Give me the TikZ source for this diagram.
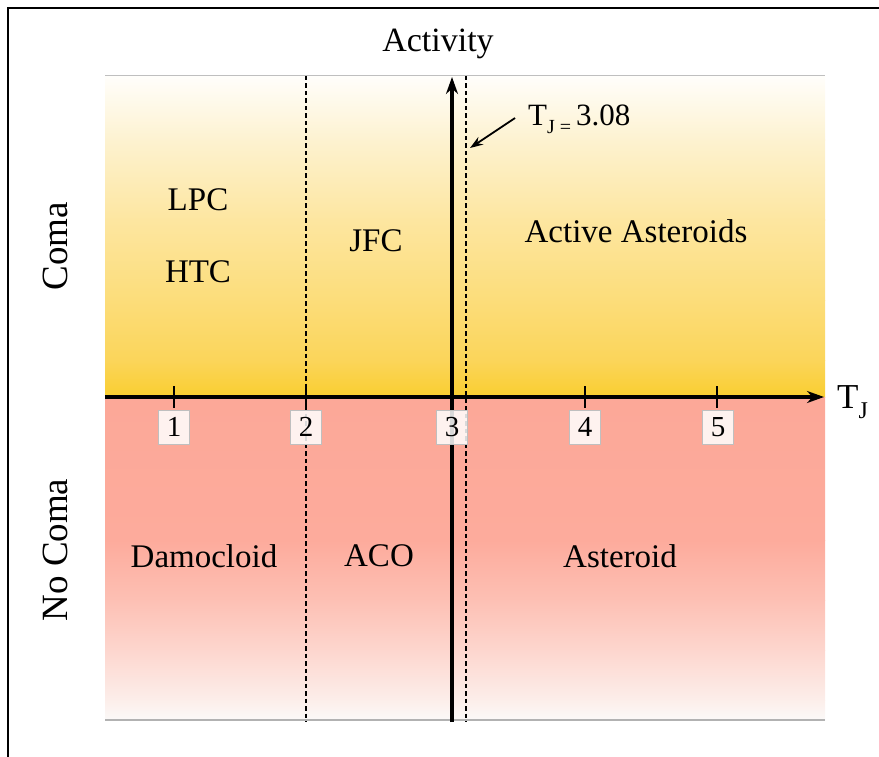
\documentclass[tikz,border=0pt]{standalone}
\usepackage{fontspec}
\setmainfont{Liberation Serif}
\usetikzlibrary{arrows.meta}
\definecolor{yA}{HTML}{FFFEFB}
\definecolor{yB}{HTML}{FDF2D0}
\definecolor{yC}{HTML}{FDE6A0}
\definecolor{yD}{HTML}{FCDD7A}
\definecolor{yE}{HTML}{FBD55A}
\definecolor{yF}{HTML}{F9CE30}
\definecolor{rA}{HTML}{FCA898}
\definecolor{rB}{HTML}{FDAB9C}
\definecolor{rC}{HTML}{FDC0B4}
\definecolor{rD}{HTML}{FDD6CE}
\definecolor{rE}{HTML}{FCEEEA}
\definecolor{rF}{HTML}{FBF9F8}
\begin{document}
\begin{tikzpicture}[x=1pt,y=-1pt,
  lbl/.style={font=\fontsize{33}{36}\selectfont, inner sep=0pt},
  side/.style={font=\fontsize{37}{40}\selectfont, inner sep=0pt, rotate=90},
  ticklbl/.style={draw=black!25, line width=0.8pt, fill=white, fill opacity=0.85, draw opacity=1, text opacity=1, font=\fontsize{29}{30}\selectfont, minimum width=31pt, minimum height=34pt, inner sep=0pt},
  dashln/.style={line width=1.8pt, dash pattern=on 4.5pt off 3pt},
  axisln/.style={line width=3.4pt, -{Stealth[length=17pt,width=12pt]}},
  tickmark/.style={line width=1.8pt}]
\useasboundingbox (0,0) rectangle (879,757);
\draw[line width=2.2pt] (8,757) -- (8,8) -- (879,8);
% top (coma) region
\shade[top color=yA, bottom color=yB] (105,76) rectangle (825,140.5);
\shade[top color=yB, bottom color=yC] (105,140) rectangle (825,220.5);
\shade[top color=yC, bottom color=yD] (105,220) rectangle (825,300.5);
\shade[top color=yD, bottom color=yE] (105,300) rectangle (825,360.5);
\shade[top color=yE, bottom color=yF] (105,360) rectangle (825,397);
% bottom (no coma) region
\shade[top color=rA, bottom color=rB] (105,397) rectangle (825,540.5);
\shade[top color=rB, bottom color=rC] (105,540) rectangle (825,600.5);
\shade[top color=rC, bottom color=rD] (105,600) rectangle (825,650.5);
\shade[top color=rD, bottom color=rE] (105,650) rectangle (825,700.5);
\shade[top color=rE, bottom color=rF] (105,700) rectangle (825,720);
\draw[black!25, line width=1pt] (105,76) -- (825,76);
\draw[black!30, line width=1.4pt] (105,720) -- (825,720);
% coordinates
\coordinate (vb) at (452,722);
\coordinate (vt) at (452,77);
\coordinate (hl) at (105,397);
\coordinate (hr) at (824,397);
\coordinate (d2t) at (306,76);
\coordinate (d2b) at (306,722);
\coordinate (d3t) at (466,76);
\coordinate (d3b) at (466,722);
% dashed boundaries
\draw[dashln] (d2t) -- (d2b);
\draw[dashln] (d3t) -- (d3b);
% ticks
\foreach \x in {174,306,452,585,717}{
  \draw[tickmark] (\x,386) -- (\x,408);
}
% axes
\draw[axisln] (hl) -- (hr);
\draw[axisln] (vb) -- (vt);
% tick labels
\node[ticklbl] (t1) at (174,427) {1};
\node[ticklbl] (t2) at (306,427) {2};
\node[ticklbl] (t3) at (452,427) {3};
\node[ticklbl] (t4) at (585,427) {4};
\node[ticklbl] (t5) at (718,427) {5};
% axis labels
\node[font=\fontsize{34}{38}\selectfont, inner sep=0pt] (act) at (438,44) {Activity};
\node[font=\fontsize{35}{40}\selectfont, inner sep=0pt, anchor=west] (tj) at (837,402) {T\raisebox{-0.3em}{\fontsize{24}{27}\selectfont J}};
% T_J = 3.08 annotation
\node[font=\fontsize{31}{34}\selectfont, inner sep=0pt, anchor=west] (tjv) at (528,119) {T\raisebox{-0.27em}{\fontsize{20}{22}\selectfont J = }3.08};
\coordinate (tjs) at (515,118);
\coordinate (tjarr) at (470,148);
\draw[line width=1.8pt, -{Stealth[length=13pt,width=9pt]}] (tjs) -- (tjarr);
% region labels
\node[lbl] (lpc) at (198,200) {LPC};
\node[lbl] (htc) at (198,272) {HTC};
\node[lbl] (jfc) at (376,241) {JFC};
\node[lbl] (aa) at (636,231) {Active Asteroids};
\node[lbl] (dam) at (204,556) {Damocloid};
\node[lbl] (aco) at (379,556) {ACO};
\node[lbl] (ast) at (620,556) {Asteroid};
\node[side] (coma) at (55,246) {Coma};
\node[side] (nocoma) at (55,550) {No Coma};
\end{tikzpicture}
\end{document}
